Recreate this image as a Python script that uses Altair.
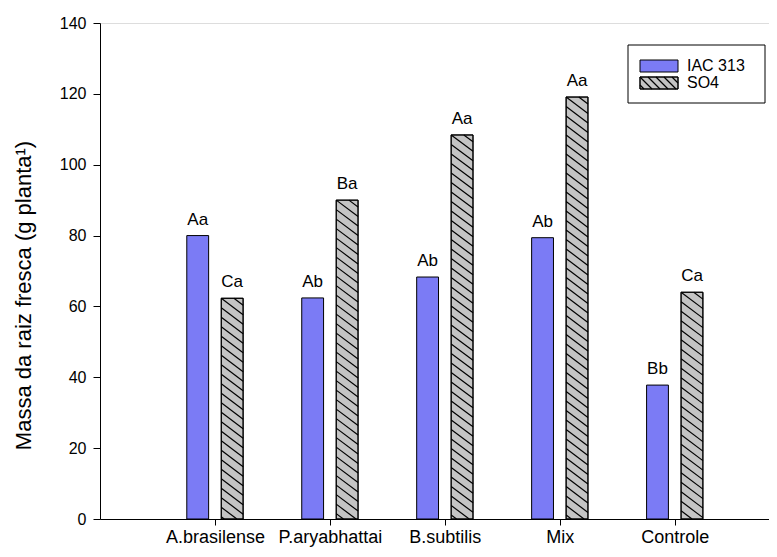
import json
import math
import altair as alt
import pandas as pd

# ---- data ----
categories = ["A.brasilense", "P.aryabhattai", "B.subtilis", "Mix", "Controle"]
series_names = ["IAC 313", "SO4"]
iac_values = [80.0, 62.4, 68.3, 79.4, 37.8]
so4_values = [62.3, 90.0, 108.4, 119.1, 64.0]
iac_letters = ["Aa", "Ab", "Ab", "Ab", "Bb"]
so4_letters = ["Ca", "Ba", "Aa", "Aa", "Ca"]
y_ticks = [0, 20, 40, 60, 80, 100, 120, 140]
y_title = "Massa da raiz fresca (g planta¹)"

# ---- layout / style ----
W, H = 669, 496
X_MAX = 5.82
Y_MAX = 140
OFFSET = 0.15
HALF = 0.095
BLUE = "#7b7bf5"
GRAY = "#c4c4c4"
FONT = "Liberation Sans"
HATCH_SP = 9.5     # vertical spacing of hatch lines, px
HATCH_K = 0.75     # drop (px) per px to the right

px_x = W / X_MAX
px_y = H / Y_MAX

rows = []
for i, cat in enumerate(categories):
    for s, vals, lets, sign in [(series_names[0], iac_values, iac_letters, -1),
                                (series_names[1], so4_values, so4_letters, 1)]:
        c = i + 1 + sign * OFFSET
        rows.append(dict(category=cat, series=s, center=c, x0=c - HALF, x1=c + HALF,
                         value=vals[i], letter=lets[i]))
df = pd.DataFrame(rows)


def hatch_segments(xl, w, h, k=HATCH_K, sp=HATCH_SP):
    """Diagonal segments inside a rectangle [xl, xl+w] x [0, h] (pixels, y up)."""
    segs = []
    jmin = -int(math.floor(k * w / sp))
    jmax = int(math.ceil(h / sp)) + 1
    for j in range(jmin, jmax + 1):
        u = h - j * sp
        if u <= 0 or u - k * w >= h:
            continue
        xs = max(0.0, (u - h) / k)
        ys = min(u, h)
        xe = min(w, u / k)
        ye = max(u - k * w, 0.0)
        if xe - xs < 0.5:
            continue
        segs.append((xl + xs, ys, xl + xe, ye))
    return segs


hrows = []
for _, r in df[df.series == "SO4"].iterrows():
    w = (r.x1 - r.x0) * px_x
    h = r.value * px_y
    for xs, ys, xe, ye in hatch_segments(0.0, w, h):
        hrows.append(dict(hx=r.x0 + xs / px_x, hy=ys / px_y, hx2=r.x0 + xe / px_x, hy2=ye / px_y))
hdf = pd.DataFrame(hrows)

xscale = alt.Scale(domain=[0, X_MAX], nice=False, zero=False)
yscale = alt.Scale(domain=[0, Y_MAX], nice=False)

label_expr = json.dumps(categories) + "[datum.value - 1]"

base = alt.Chart(df)
bars = base.mark_bar(stroke="black", strokeWidth=1).encode(
    x=alt.X("x0:Q", scale=xscale,
            axis=alt.Axis(values=[1, 2, 3, 4, 5], labelExpr=label_expr, title=None,
                          grid=False, tickSize=6, labelFontSize=18, labelPadding=3,
                          labelOverlap=False, labelFlush=False, labelFont=FONT,
                          labelColor="black", domainColor="black", tickColor="black")),
    x2="x1:Q",
    y=alt.Y("value:Q", scale=yscale,
            axis=alt.Axis(values=y_ticks, title=y_title, grid=False, tickSize=7,
                          labelFontSize=16, titleFontSize=22, labelFont=FONT, titleFont=FONT,
                          titleFontWeight="normal", labelColor="black", titleColor="black",
                          domainColor="black", tickColor="black", labelPadding=7,
                          titlePadding=24, titleY=272)),
    y2=alt.datum(0),
    fill=alt.Fill("series:N", scale=alt.Scale(domain=series_names, range=[BLUE, GRAY]),
                  legend=None),
)

hatch = alt.Chart(hdf).mark_rule(color="black", strokeWidth=1.2).encode(
    x=alt.X("hx:Q", scale=xscale), x2="hx2:Q",
    y=alt.Y("hy:Q", scale=yscale), y2="hy2:Q",
)

outline = base.transform_filter(alt.datum.series == "SO4").mark_bar(
    fill=None, stroke="black", strokeWidth=1).encode(
    x=alt.X("x0:Q", scale=xscale), x2="x1:Q",
    y=alt.Y("value:Q", scale=yscale), y2=alt.datum(0),
)

letters = base.mark_text(baseline="alphabetic", dy=-11, fontSize=17, font=FONT, color="black").encode(
    x=alt.X("center:Q", scale=xscale),
    y=alt.Y("value:Q", scale=yscale),
    text="letter:N",
)

# ---- manual legend (pixel positions inside the plot area) ----
LX0, LX1, LY0, LY1 = 528, 665, 22, 80
SW_X0, SW_X1 = 540, 578
SW_H = 12
row_y = [37, 54]

box = alt.Chart(pd.DataFrame({"a": [0]})).mark_rect(fill="white", stroke="black", strokeWidth=1).encode(
    x=alt.value(LX0), x2=alt.value(LX1), y=alt.value(LY0), y2=alt.value(LY1))

sw1 = alt.Chart(pd.DataFrame({"a": [0]})).mark_rect(fill=BLUE, stroke="black", strokeWidth=1).encode(
    x=alt.value(SW_X0), x2=alt.value(SW_X1), y=alt.value(row_y[0]), y2=alt.value(row_y[0] + SW_H))
sw2 = alt.Chart(pd.DataFrame({"a": [0]})).mark_rect(fill=GRAY, stroke="black", strokeWidth=1).encode(
    x=alt.value(SW_X0), x2=alt.value(SW_X1), y=alt.value(row_y[1]), y2=alt.value(row_y[1] + SW_H))

lsegs = hatch_segments(0.0, SW_X1 - SW_X0, SW_H, k=1.0, sp=8.0)
ldf = pd.DataFrame([dict(a=SW_X0 + xs, b=row_y[1] + SW_H - ys, c=SW_X0 + xe, d=row_y[1] + SW_H - ye)
                    for xs, ys, xe, ye in lsegs])
lh = alt.Chart(ldf).mark_rule(color="black", strokeWidth=1.2).encode(
    x=alt.X("a:Q", scale=None), x2="c:Q", y=alt.Y("b:Q", scale=None), y2="d:Q")

sw2o = alt.Chart(pd.DataFrame({"a": [0]})).mark_rect(fill=None, stroke="black", strokeWidth=1).encode(
    x=alt.value(SW_X0), x2=alt.value(SW_X1), y=alt.value(row_y[1]), y2=alt.value(row_y[1] + SW_H))

ltxt = alt.Chart(pd.DataFrame({"t": series_names, "yy": [row_y[0] + SW_H / 2, row_y[1] + SW_H / 2]})).mark_text(
    align="left", baseline="middle", fontSize=16, font=FONT, color="black").encode(
    x=alt.value(SW_X1 + 9), y=alt.Y("yy:Q", scale=None), text="t:N")

chart = alt.layer(bars, hatch, outline, letters, box, sw1, sw2, lh, sw2o, ltxt).properties(
    width=W, height=H,
    autosize=alt.AutoSizeParams(type="none"),
    padding={"left": 92, "top": 15, "right": 0, "bottom": 30},
).configure_view(stroke=None).configure(background="white")

chart.save("out.html", embed_options={"renderer": "svg", "actions": False})
